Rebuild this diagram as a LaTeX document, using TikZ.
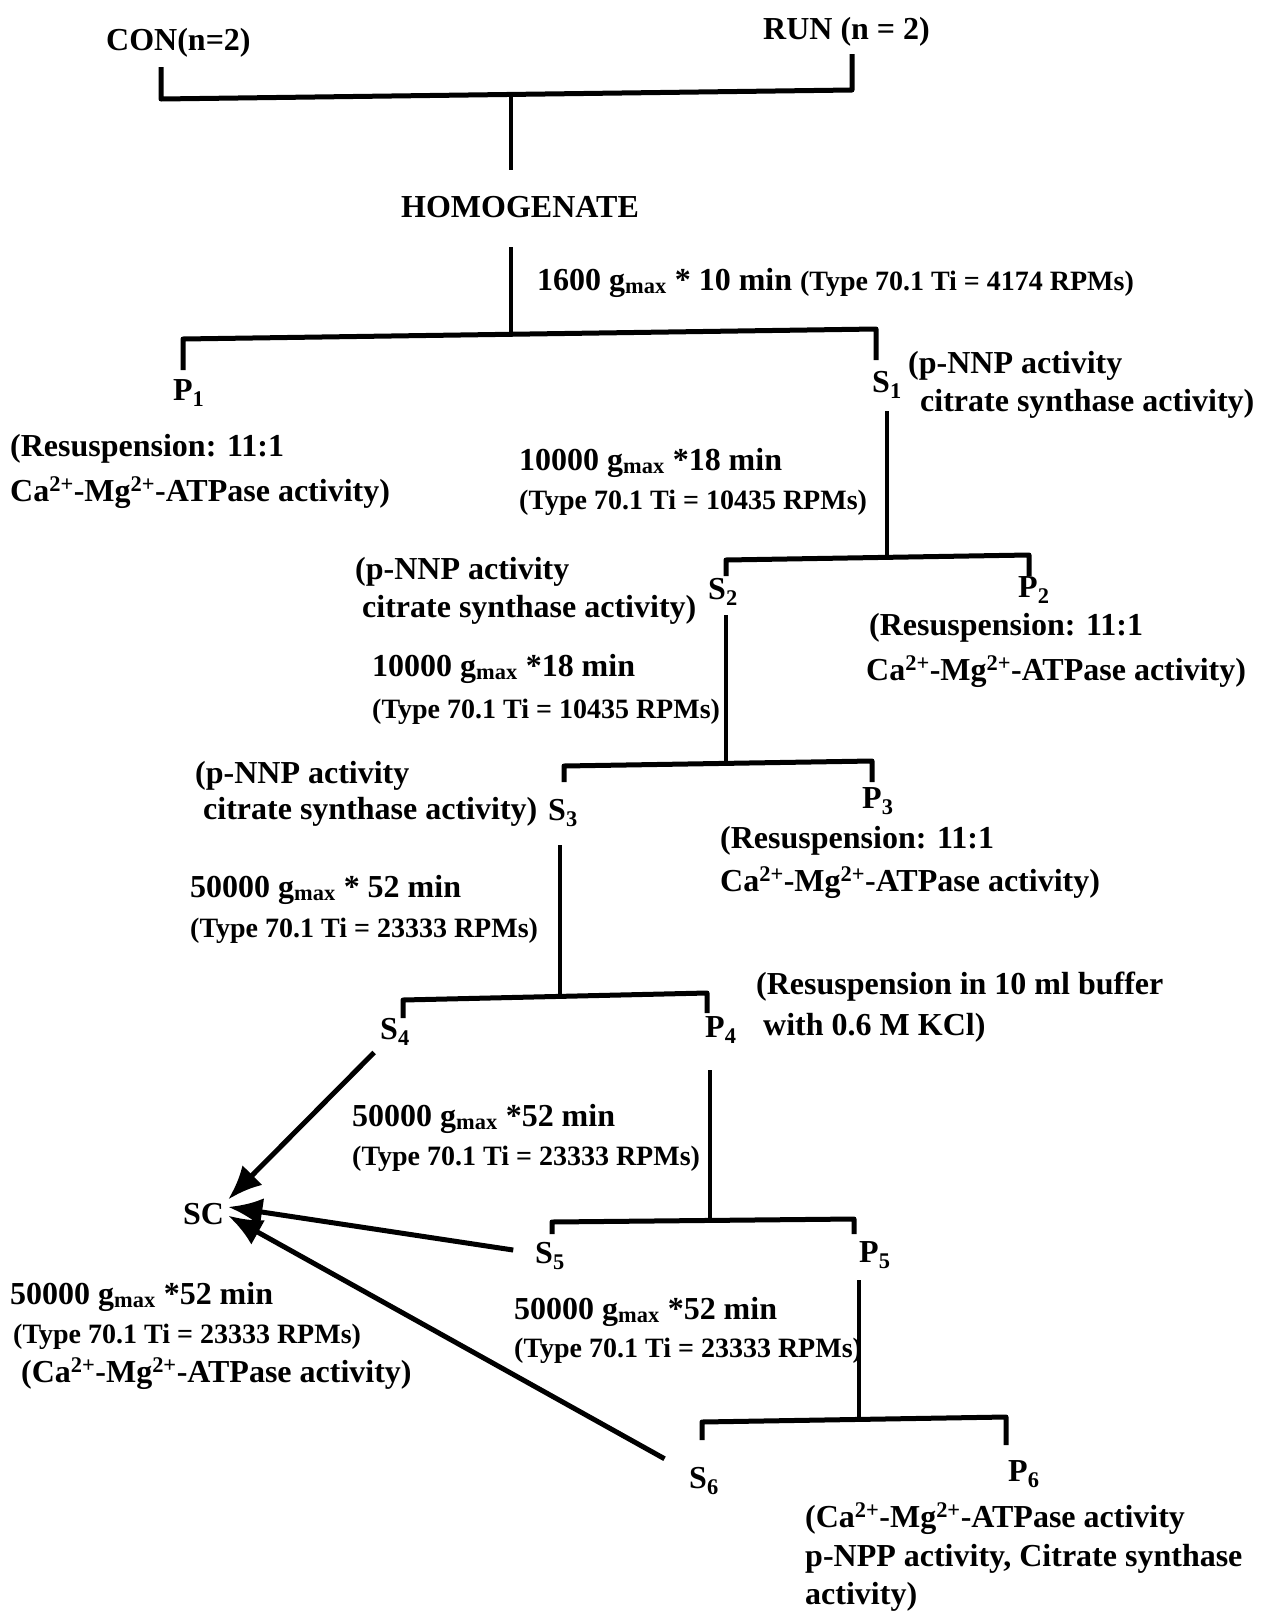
\documentclass[tikz,border=0pt]{standalone}
\usepackage{fontspec}
\setmainfont{Liberation Serif}
\usetikzlibrary{arrows.meta}
\newcommand\mysmallf{\fontsize{28}{32}\selectfont}
\newcommand\mybigf{\fontsize{32}{38}\selectfont}
\newcommand\gmx{g\textsubscript{max}}
\newcommand\camg{Ca\textsuperscript{2+}-Mg\textsuperscript{2+}-ATPase activity}
\begin{document}
\begin{tikzpicture}[x=1pt,y=-1pt,
  lbl/.style={font=\bfseries\mybigf, inner sep=0pt, anchor=base west},
  lbls/.style={font=\bfseries\mysmallf, inner sep=0pt, anchor=base west},
  brk/.style={line width=5pt, line join=round},
  stemline/.style={line width=4.2pt},
  arr/.style={line width=5pt, -{Latex[length=34pt,width=28pt]}}]
\useasboundingbox (0,0) rectangle (1264,1612);

% top
\node[lbl] (con) at (106,50) {CON(n=2)};
\node[lbl] (run) at (763,39) {RUN (n = 2)};
\node[lbl] (homog) at (401,217) {HOMOGENATE};
\node[lbl] (c1) at (537,290) {1600 \gmx{} * 10 min {\mysmallf (Type 70.1 Ti = 4174 RPMs)}};

% level 1
\node[lbl] (p1) at (173,400) {P\textsubscript{1}};
\node[lbl] (s1) at (872,392) {S\textsubscript{1}};
\node[lbl] (s1a) at (908,373) {(p-NNP activity};
\node[lbl] (s1b) at (920,411) {citrate synthase activity)};
\node[lbl] (p1a) at (10,456) {(Resuspension: 11:1};
\node[lbl] (p1b) at (10,501) {\camg)};
\node[lbl] (c2a) at (519,470) {10000 \gmx{} *18 min};
\node[lbls] (c2b) at (519,509) {(Type 70.1 Ti = 10435 RPMs)};

% level 2
\node[lbl] (s2) at (708,599) {S\textsubscript{2}};
\node[lbl] (p2) at (1018,597) {P\textsubscript{2}};
\node[lbl] (s2a) at (355,579) {(p-NNP activity};
\node[lbl] (s2b) at (362,617) {citrate synthase activity)};
\node[lbl] (p2a) at (869,635) {(Resuspension: 11:1};
\node[lbl] (p2b) at (866,680) {\camg)};
\node[lbl] (c3a) at (372,676) {10000 \gmx{} *18 min};
\node[lbls] (c3b) at (372,718) {(Type 70.1 Ti = 10435 RPMs)};

% level 3
\node[lbl] (s3) at (548,820) {S\textsubscript{3}};
\node[lbl] (p3) at (862,808) {P\textsubscript{3}};
\node[lbl] (s3a) at (195,783) {(p-NNP activity};
\node[lbl] (s3b) at (203,819) {citrate synthase activity)};
\node[lbl] (p3a) at (720,848) {(Resuspension: 11:1};
\node[lbl] (p3b) at (720,891) {\camg)};
\node[lbl] (c4a) at (190,897) {50000 \gmx{} * 52 min};
\node[lbls] (c4b) at (190,937) {(Type 70.1 Ti = 23333 RPMs)};

% level 4
\node[lbl] (s4) at (380,1039) {S\textsubscript{4}};
\node[lbl] (p4) at (705,1037) {P\textsubscript{4}};
\node[lbl] (p4a) at (756,994) {(Resuspension in 10 ml buffer};
\node[lbl] (p4b) at (763,1035) {with 0.6 M KCl)};
\node[lbl] (c5a) at (352,1126) {50000 \gmx{} *52 min};
\node[lbls] (c5b) at (352,1165) {(Type 70.1 Ti = 23333 RPMs)};

% SC
\node[lbl, inner sep=4pt] (sc) at (179,1224) {SC};
\node[lbl] (sca) at (10,1304) {50000 \gmx{} *52 min};
\node[lbls] (scb) at (13,1343) {(Type 70.1 Ti = 23333 RPMs)};
\node[lbl] (scc) at (21,1382) {(\camg)};

% level 5
\node[lbl] (s5) at (535,1263) {S\textsubscript{5}};
\node[lbl] (p5) at (859,1262) {P\textsubscript{5}};
\node[lbl] (c6a) at (514,1319) {50000 \gmx{} *52 min};
\node[lbls] (c6b) at (514,1357) {(Type 70.1 Ti = 23333 RPMs)};

% level 6
\node[lbl] (s6) at (689,1488) {S\textsubscript{6}};
\node[lbl] (p6) at (1008,1481) {P\textsubscript{6}};
\node[lbl] (p6a) at (805,1527) {(\camg};
\node[lbl] (p6b) at (805,1566) {p-NPP activity, Citrate synthase};
\node[lbl] (p6c) at (805,1604) {activity)};

% bracket coordinates
\coordinate (b1a) at (161,67);  \coordinate (b1b) at (161,99);
\coordinate (b1c) at (852,90);  \coordinate (b1d) at (852,54);
\coordinate (t1a) at (511,97);  \coordinate (t1b) at (511,170);
\coordinate (t2a) at (511,247); \coordinate (t2b) at (511,335);
\coordinate (b2a) at (183,370); \coordinate (b2b) at (183,339);
\coordinate (b2c) at (876,329); \coordinate (b2d) at (876,360);
\coordinate (t3a) at (887,411); \coordinate (t3b) at (887,558);
\coordinate (b3a) at (726,576); \coordinate (b3b) at (726,560);
\coordinate (b3c) at (1029,555); \coordinate (b3d) at (1029,576);
\coordinate (t4a) at (726,615); \coordinate (t4b) at (726,764);
\coordinate (b4a) at (564,782); \coordinate (b4b) at (564,766);
\coordinate (b4c) at (872,761); \coordinate (b4d) at (872,782);
\coordinate (t5a) at (560,845); \coordinate (t5b) at (560,998);
\coordinate (b5a) at (403,1018); \coordinate (b5b) at (403,1000);
\coordinate (b5c) at (707,993); \coordinate (b5d) at (707,1013);
\coordinate (t6a) at (710,1070); \coordinate (t6b) at (710,1222);
\coordinate (b6a) at (552,1234); \coordinate (b6b) at (552,1222);
\coordinate (b6c) at (854,1219); \coordinate (b6d) at (854,1234);
\coordinate (t7a) at (859,1280); \coordinate (t7b) at (859,1421);
\coordinate (b7a) at (702,1440); \coordinate (b7b) at (702,1422);
\coordinate (b7c) at (1006,1417); \coordinate (b7d) at (1006,1445);

\draw[brk] (b1a) -- (b1b) -- (b1c) -- (b1d);
\draw[brk] (b2a) -- (b2b) -- (b2c) -- (b2d);
\draw[brk] (b3a) -- (b3b) -- (b3c) -- (b3d);
\draw[brk] (b4a) -- (b4b) -- (b4c) -- (b4d);
\draw[brk] (b5a) -- (b5b) -- (b5c) -- (b5d);
\draw[brk] (b6a) -- (b6b) -- (b6c) -- (b6d);
\draw[brk] (b7a) -- (b7b) -- (b7c) -- (b7d);
\draw[stemline] (t1a) -- (t1b);
\draw[stemline] (t2a) -- (t2b);
\draw[stemline] (t3a) -- (t3b);
\draw[stemline] (t4a) -- (t4b);
\draw[stemline] (t5a) -- (t5b);
\draw[stemline] (t6a) -- (t6b);
\draw[stemline] (t7a) -- (t7b);

% arrows to SC
\draw[arr, shorten <=10pt] (s4) -- (sc.30);
\draw[arr, shorten <=22pt] (s5) -- (sc.15);
\draw[arr, shorten <=28pt] (s6) -- (sc.-5);
\end{tikzpicture}
\end{document}
